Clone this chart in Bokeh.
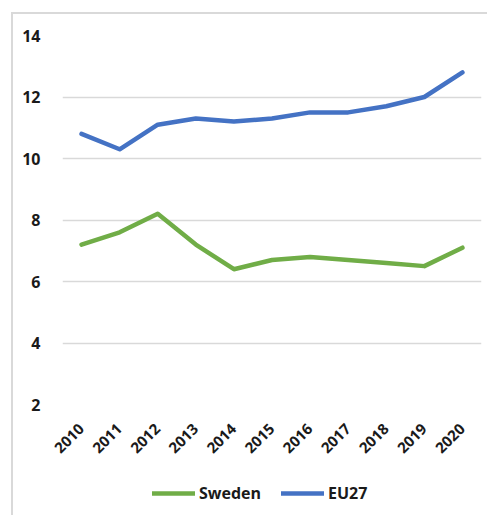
from bokeh.plotting import figure
from bokeh.models import FactorRange, Range1d, Legend, LegendItem, FixedTicker, ColumnDataSource
from bokeh.layouts import column
from bokeh.embed import file_html
from bokeh.resources import INLINE
import math

years = ["2010", "2011", "2012", "2013", "2014", "2015", "2016", "2017", "2018", "2019", "2020"]
sweden = [7.2, 7.6, 8.2, 7.2, 6.4, 6.7, 6.8, 6.7, 6.6, 6.5, 7.1]
eu27 = [10.8, 10.3, 11.1, 11.3, 11.2, 11.3, 11.5, 11.5, 11.7, 12.0, 12.8]
y_ticks = [2, 4, 6, 8, 10, 12, 14]
series_names = ["Sweden", "EU27"]
series_colors = ["#70AD47", "#4472C4"]

FONT = "Open Sans"
TEXT = "#1a1a1a"

p = figure(width=474, height=456, x_range=FactorRange(*years, range_padding=0),
           y_range=Range1d(2, 14), output_backend="svg", toolbar_location=None,
           min_border_left=49, min_border_top=21, min_border_right=6, min_border_bottom=66)
p.outline_line_color = None

p.line(years, sweden, line_color=series_colors[0], line_width=4.5, line_join="round", line_cap="round")
p.line(years, eu27, line_color=series_colors[1], line_width=4.5, line_join="round", line_cap="round")

p.yaxis.ticker = FixedTicker(ticks=y_ticks)
p.yaxis.axis_line_color = None
p.yaxis.major_tick_line_color = None
p.yaxis.minor_tick_line_color = None
p.yaxis.major_label_text_font = FONT
p.yaxis.major_label_text_font_style = "bold"
p.yaxis.major_label_text_font_size = "16px"
p.yaxis.major_label_text_color = TEXT
p.yaxis.major_label_standoff = 16

p.xaxis.axis_line_color = None
p.xaxis.major_tick_line_color = None
p.xaxis.major_label_text_font = FONT
p.xaxis.major_label_text_font_style = "bold"
p.xaxis.major_label_text_font_size = "15px"
p.xaxis.major_label_text_color = TEXT
p.xaxis.major_label_orientation = math.pi / 4
p.xaxis.major_label_standoff = 16

p.xgrid.grid_line_color = None
p.ygrid.grid_line_color = "#d9d9d9"
p.ygrid.grid_line_width = 1.5

# legend strip (dummy renderers lie outside the visible range)
lg = figure(width=474, height=45, x_range=Range1d(0, 1), y_range=Range1d(0, 1),
            output_backend="svg", toolbar_location=None, x_axis_type=None, y_axis_type=None,
            min_border=0)
lg.outline_line_color = None
lg.grid.grid_line_color = None
items = []
for name, col in zip(series_names, series_colors):
    src = ColumnDataSource(data=dict(x=[-5, -4], y=[-5, -5]))
    r = lg.line("x", "y", source=src, line_color=col, line_width=4.5, line_cap="round")
    items.append(LegendItem(label=name, renderers=[r]))
legend = Legend(items=items, orientation="horizontal", location=(90, 11), border_line_color=None,
                background_fill_alpha=0,
                label_text_font=FONT, label_text_font_style="bold", label_text_font_size="16px",
                label_text_color=TEXT, glyph_width=43, glyph_height=20, spacing=20, label_standoff=4,
                padding=0, margin=0)
lg.add_layout(legend)

layout = column(p, lg, spacing=0)
layout.margin = (12, 0, 0, 11)
layout.styles = {"border-left": "2px solid #d9d9d9", "border-top": "2px solid #d9d9d9"}

open("out.html", "w").write(file_html(layout, INLINE))
